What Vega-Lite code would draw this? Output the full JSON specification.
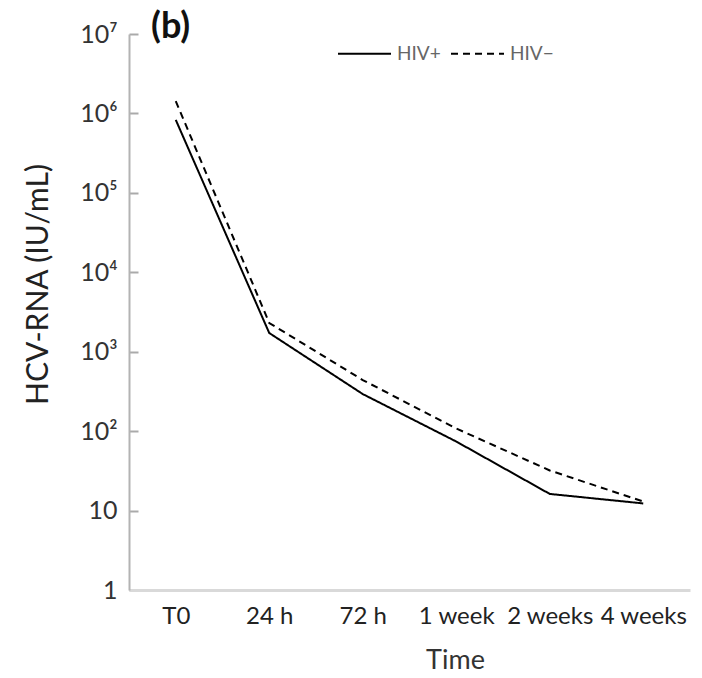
{
  "$schema": "https://vega.github.io/schema/vega-lite/v6.json",
  "autosize": "none",
  "padding": {"left": 129, "top": 34, "right": 12, "bottom": 88},
  "width": 561,
  "height": 556,
  "background": "white",
  "title": {"text": "(b)", "anchor": "start", "frame": "group", "dx": 22, "dy": 43, "offset": -9, "baseline": "alphabetic", "fontSize": 36, "fontWeight": "bold", "font": "Lato", "color": "#111"},
  "data": {"values": [
    {"time": "T0", "group": "HIV+", "rna": 830000},
    {"time": "24 h", "group": "HIV+", "rna": 1720},
    {"time": "72 h", "group": "HIV+", "rna": 293},
    {"time": "1 week", "group": "HIV+", "rna": 74},
    {"time": "2 weeks", "group": "HIV+", "rna": 16.2},
    {"time": "4 weeks", "group": "HIV+", "rna": 12.3},
    {"time": "T0", "group": "HIV−", "rna": 1430000},
    {"time": "24 h", "group": "HIV−", "rna": 2300},
    {"time": "72 h", "group": "HIV−", "rna": 440},
    {"time": "1 week", "group": "HIV−", "rna": 108},
    {"time": "2 weeks", "group": "HIV−", "rna": 32},
    {"time": "4 weeks", "group": "HIV−", "rna": 13}
  ]},
  "mark": {"type": "line", "color": "black", "strokeWidth": 2},
  "encoding": {
    "x": {"field": "time", "type": "ordinal", "sort": ["T0", "24 h", "72 h", "1 week", "2 weeks", "4 weeks"],
      "scale": {"type": "point", "padding": 0.5},
      "axis": {"title": "Time", "labelAngle": 0, "ticks": false, "domainColor": "#d9d9d9", "domainWidth": 3,
        "labelFont": "Lato", "labelFontSize": 24, "labelColor": "#222", "labelPadding": 14,
        "titleFont": "Lato", "titleFontSize": 27, "titleFontWeight": "normal", "titleColor": "#333",
        "titleX": 326, "titleY": 70, "titleBaseline": "middle", "titleAlign": "center"}},
    "y": {"field": "rna", "type": "quantitative",
      "scale": {"type": "log", "domain": [1, 10000000], "nice": false},
      "axis": {"title": "HCV-RNA (IU/mL)", "values": [1, 10, 100, 1000, 10000, 100000, 1000000, 10000000],
        "labelExpr": "datum.value <= 1 ? '1' : datum.value == 10 ? '10' : '10' + ['', '', '²', '³', '⁴', '⁵', '⁶', '⁷'][round(log(datum.value) / LN10)]",
        "domainColor": "#b3b3b3", "domainWidth": 2, "ticks": false,
        "grid": true, "gridColor": "#aaaaaa", "gridWidth": 2, "gridDash": [9, 2000], "gridOpacity": 1,
        "labelFont": "Lato", "labelFontSize": 25, "labelColor": "#333", "labelPadding": 12,
        "titleFont": "Lato", "titleFontSize": 30, "titleFontWeight": "normal", "titleColor": "#222",
        "titleX": -91, "titleY": 250, "titleBaseline": "middle", "titleAlign": "center", "titleAngle": -90}},
    "strokeDash": {"field": "group", "type": "nominal",
      "scale": {"domain": ["HIV+", "HIV−"], "range": [[1, 0], [7, 5]]},
      "legend": {"title": null, "orient": "none", "legendX": 208, "legendY": -8, "direction": "horizontal",
        "symbolType": "stroke", "symbolSize": 2809, "symbolStrokeWidth": 2, "symbolStrokeColor": "black",
        "labelFont": "Lato", "labelFontSize": 19, "labelColor": "#666", "labelOffset": 5, "columnPadding": 6}}
  },
  "config": {"view": {"stroke": null}}
}
